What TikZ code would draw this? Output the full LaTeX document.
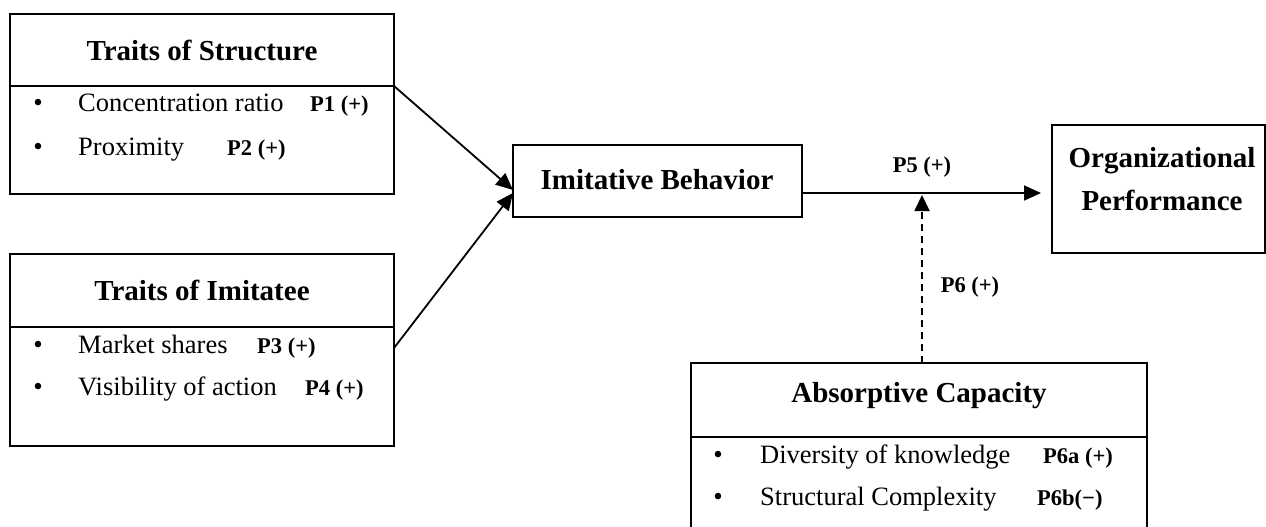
\documentclass[tikz,border=0pt]{standalone}
\usepackage{fontspec}
\setmainfont{Liberation Serif}
\usetikzlibrary{arrows.meta}
\begin{document}
\begin{tikzpicture}[x=1pt,y=-1pt,
  box/.style={draw, line width=1.8pt, inner sep=0pt, outer sep=0pt, anchor=north west},
  divider/.style={line width=1.8pt},
  title/.style={font=\fontsize{29}{43}\selectfont\bfseries, align=center, inner sep=0pt},
  item/.style={font=\fontsize{26.5}{31}\selectfont, anchor=base west, inner sep=0pt},
  bul/.style={font=\fontsize{27}{30}\selectfont, anchor=base, inner sep=0pt},
  lab/.style={font=\fontsize{22.5}{27}\selectfont\bfseries, anchor=base west, inner sep=0pt},
  clab/.style={font=\fontsize{22.5}{27}\selectfont\bfseries, inner sep=0pt},
  arr/.style={line width=1.8pt, -{Triangle[length=17pt,width=15pt]}},
  darr/.style={line width=1.8pt, dash pattern=on 7pt off 5pt, -{Triangle[length=16pt,width=15pt]}}]
\useasboundingbox (0,0) rectangle (1266,527);

% Traits of Structure
\node[box, minimum width=384pt, minimum height=180pt] (ts) at (10,14) {};
\coordinate (tsL) at (10,86);
\coordinate (tsR) at (394,86);
\draw[divider] (tsL) -- (tsR);
\node[title] (tsT) at (202,50) {Traits of Structure};
\node[bul] (tsb1) at (38,111) {\textbullet};
\node[item] (tsi1) at (78,111) {Concentration ratio};
\node[lab] (tsl1) at (310,111) {P1 (+)};
\node[bul] (tsb2) at (38,155) {\textbullet};
\node[item] (tsi2) at (78,155) {Proximity};
\node[lab] (tsl2) at (227,155) {P2 (+)};

% Traits of Imitatee
\node[box, minimum width=384pt, minimum height=192pt] (ti) at (10,254) {};
\coordinate (tiL) at (10,327);
\coordinate (tiR) at (394,327);
\draw[divider] (tiL) -- (tiR);
\node[title] (tiT) at (202,290) {Traits of Imitatee};
\node[bul] (tib1) at (38,353) {\textbullet};
\node[item] (tii1) at (78,353) {Market shares};
\node[lab] (til1) at (257,353) {P3 (+)};
\node[bul] (tib2) at (38,395) {\textbullet};
\node[item] (tii2) at (78,395) {Visibility of action};
\node[lab] (til2) at (305,395) {P4 (+)};

% Imitative Behavior
\node[box, minimum width=289pt, minimum height=72pt] (ib) at (513,145) {};
\node[title] (ibT) at (657,180) {Imitative Behavior};

% Organizational Performance
\node[box, minimum width=213pt, minimum height=128pt] (op) at (1052,125) {};
\node[title] (opT) at (1162,179) {Organizational\\Performance};

% Absorptive Capacity
\node[box, minimum width=456pt, minimum height=180pt] (ac) at (691,363) {};
\coordinate (acL) at (691,437);
\coordinate (acR) at (1147,437);
\draw[divider] (acL) -- (acR);
\node[title] (acT) at (919,396) {Absorptive Capacity};
\node[bul] (acb1) at (718,463) {\textbullet};
\node[item] (aci1) at (760,463) {Diversity of knowledge};
\node[lab] (acl1) at (1043,463) {P6a (+)};
\node[bul] (acb2) at (718,505) {\textbullet};
\node[item] (aci2) at (760,505) {Structural Complexity};
\node[lab] (acl2) at (1037,505) {P6b(\textminus)};

% connectors
\coordinate (ibIn1) at (513,190);
\coordinate (ibIn2) at (513,193);
\coordinate (tiOut) at (394,348);
\coordinate (ibOut) at (802,193);
\coordinate (opIn) at (1041,193);
\coordinate (acOut) at (922,363);
\coordinate (mod) at (922,195);
\draw[arr] (tsR) -- (ibIn1);
\draw[arr] (tiOut) -- (ibIn2);
\draw[arr] (ibOut) -- (opIn);
\draw[darr] (acOut) -- (mod);

\node[clab] (p5) at (922,167) {P5 (+)};
\node[clab] (p6) at (970,287) {P6 (+)};
\end{tikzpicture}
\end{document}
